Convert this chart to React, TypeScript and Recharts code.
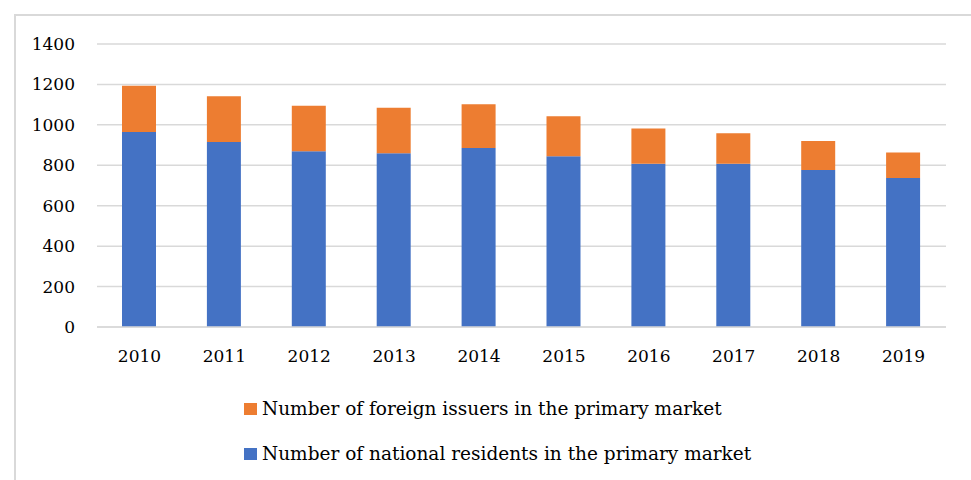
import React from 'react';
import { BarChart, Bar, XAxis, YAxis, CartesianGrid, Legend } from 'recharts';

const years = ['2010', '2011', '2012', '2013', '2014', '2015', '2016', '2017', '2018', '2019'];
const nationalResidents = [965, 915, 869, 859, 886, 845, 807, 807, 777, 737];
const foreignIssuers = [229, 226, 226, 226, 216, 198, 175, 151, 143, 126];
const yTicks = [0, 200, 400, 600, 800, 1000, 1200, 1400];

const FONT = '"DejaVu Serif", serif';
const BLUE = '#4472C4';
const ORANGE = '#ED7D31';
const GRID = '#d9d9d9';

const data = years.map((year, i) => ({
  year,
  national: nationalResidents[i],
  foreign: foreignIssuers[i],
}));

const legendItems = [
  { label: 'Number of foreign issuers in the primary market', color: ORANGE },
  { label: 'Number of national residents in the primary market', color: BLUE },
];

function LegendBox() {
  return (
    <div style={{ fontFamily: FONT, fontSize: 18.5, color: '#000', whiteSpace: 'nowrap' }}>
      {legendItems.map((it) => (
        <div key={it.label} style={{ display: 'flex', alignItems: 'center', height: 45 }}>
          <span style={{ width: 13, height: 12, background: it.color, marginRight: 5, display: 'inline-block' }} />
          <span>{it.label}</span>
        </div>
      ))}
    </div>
  );
}

const tickStyle = { fontFamily: FONT, fontSize: 17, fill: '#000' };

export default function App() {
  return (
    <div style={{ position: 'absolute', left: 0, top: 0, width: 971, height: 480, overflow: 'hidden', background: '#fff' }}>
      <div
        style={{
          position: 'absolute',
          left: 14,
          top: 14,
          width: 1000,
          height: 500,
          border: `2px solid ${GRID}`,
          boxSizing: 'border-box',
        }}
      />
      <div style={{ position: 'absolute', left: 0, top: 0, fontFamily: FONT }}>
        <BarChart
          width={971}
          height={480}
          data={data}
          margin={{ top: 44, right: 25, bottom: 123, left: 0 }}
          barSize={34}
          style={{ fontFamily: FONT }}
        >
          <CartesianGrid vertical={false} stroke={GRID} strokeWidth={1.5} />
          <XAxis
            dataKey="year"
            height={30}
            axisLine={{ stroke: GRID, strokeWidth: 1.5 }}
            tickLine={false}
            tickSize={20}
            tickMargin={3}
            tick={tickStyle}
          />
          <YAxis
            width={97}
            domain={[0, 1400]}
            ticks={yTicks}
            interval={0}
            axisLine={false}
            tickLine={false}
            tickSize={20}
            tickMargin={2}
            tick={tickStyle}
          />
          <Legend
            layout="horizontal"
            verticalAlign="middle"
            align="center"
            wrapperStyle={{ left: 244, top: 386, width: 'auto' }}
            content={() => <LegendBox />}
          />
          <Bar dataKey="national" stackId="a" fill={BLUE} isAnimationActive={false} />
          <Bar dataKey="foreign" stackId="a" fill={ORANGE} isAnimationActive={false} />
        </BarChart>
      </div>
    </div>
  );
}
